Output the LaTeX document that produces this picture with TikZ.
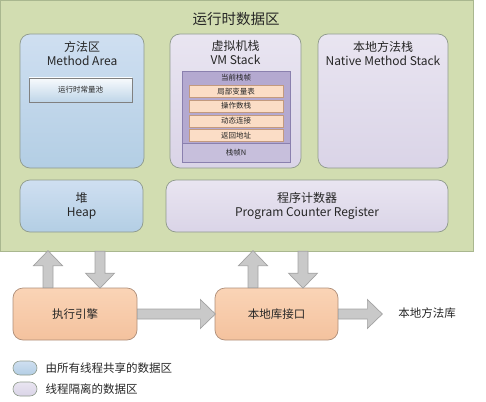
\documentclass[tikz,border=0pt]{standalone}
\usepackage{fontspec}
\setmainfont{Noto Sans CJK SC}
\usetikzlibrary{positioning}
\definecolor{bggreen}{HTML}{D2DDB1}
\definecolor{bgline}{HTML}{A9B78F}
\definecolor{boxline}{HTML}{8F9A8C}
\definecolor{blueA}{HTML}{CFDFF1}
\definecolor{blueB}{HTML}{B3CEE4}
\definecolor{lilacA}{HTML}{E9E5F1}
\definecolor{lilacB}{HTML}{DAD4E7}
\definecolor{frameA}{HTML}{C7BFDC}
\definecolor{frameB}{HTML}{B4A9D0}
\definecolor{frameline}{HTML}{8A80AE}
\definecolor{rowfill}{HTML}{FBDDC6}
\definecolor{rowline}{HTML}{C39A7E}
\definecolor{orangeA}{HTML}{FAD4B6}
\definecolor{orangeB}{HTML}{F4C29E}
\definecolor{orangeline}{HTML}{AE8E79}
\definecolor{arrowfill}{HTML}{C9C9C9}
\definecolor{arrowline}{HTML}{A3A3A3}
\begin{document}
\begin{tikzpicture}[x=1pt,y=-1pt,
  every node/.style={inner sep=1pt,text=black!85},
  area/.style={draw=boxline,line width=0.7pt,rounded corners=10pt},
  shared/.style={area,top color=blueA,bottom color=blueB},
  private/.style={area,top color=lilacA,bottom color=lilacB},
  engine/.style={draw=orangeline,line width=0.7pt,rounded corners=10pt,top color=orangeA,bottom color=orangeB},
  rowbox/.style={draw=rowline,line width=0.5pt,fill=rowfill,minimum width=94pt,minimum height=12pt,font=\fontsize{7.5}{8}\selectfont},
  heading/.style={align=center,font=\fontsize{12}{14}\selectfont},
  small/.style={font=\fontsize{7.5}{8}\selectfont},
  label/.style={font=\fontsize{11.5}{13}\selectfont},
  pics/blockarrow/.style={code={
    \filldraw[fill=arrowfill,draw=arrowline,line width=0.7pt]
      (0,-5) -- (#1-15,-5) -- (#1-15,-14.5) -- (#1,0) -- (#1-15,14.5) -- (#1-15,5) -- (0,5) -- cycle;}}
]
\useasboundingbox (0,0) rectangle (486,401);
% runtime data area
\node[draw=bgline,fill=bggreen,minimum width=473pt,minimum height=251pt,inner sep=0pt] (runtime) at (236.5,125.5) {};
\node[font=\fontsize{14.5}{16}\selectfont] (title) at (236,19) {运行时数据区};

% method area
\node[shared,minimum width=124pt,minimum height=134pt] (method) at (82,101) {};
\node[heading,below=6pt of method.north] {方法区\\Method Area};
\node[draw=black!50,line width=0.6pt,top color=white!85!blueA,bottom color=blueB!85!white,minimum width=103pt,minimum height=24pt,small] (pool) at (80.5,90) {运行时常量池};

% vm stack
\node[private,minimum width=131pt,minimum height=134pt] (vmstack) at (235.5,101) {};
\node[heading,below=6pt of vmstack.north] {虚拟机栈\\VM Stack};
\node[draw=frameline,line width=0.6pt,fill=frameA,minimum width=108pt,minimum height=91pt] (frames) at (236,116.5) {};
\node[draw=frameline,line width=0.6pt,fill=frameB,minimum width=108pt,minimum height=72pt] (current) at (236,107) {};
\node[small] at (236,78) {当前栈帧};
\foreach \y/\name/\txt in {91.5/locals/局部变量表,106/operands/操作数栈,121/dynlink/动态连接,135.5/retaddr/返回地址}
  \node[rowbox] (\name) at (236,\y) {\txt};
\node[small] at (236,153) {栈帧N};

% native method stack
\node[private,minimum width=130pt,minimum height=134pt] (native) at (383,101) {};
\node[heading,below=6pt of native.north] {本地方法栈\\Native Method Stack};

% heap and pc register
\node[shared,minimum width=123pt,minimum height=52pt,heading] (heap) at (81.5,206) {堆\\Heap};
\node[private,minimum width=282pt,minimum height=52pt,heading] (pc) at (307,206) {程序计数器\\Program Counter Register};

% execution engine and native interface
\node[engine,minimum width=124pt,minimum height=52pt,label] (exec) at (75,314) {执行引擎};
\node[engine,minimum width=123pt,minimum height=52pt,label] (jni) at (276.5,314) {本地库接口};
\node[label] (libs) at (427,313) {本地方法库};

\pic[rotate=90] at ([xshift=-27pt]exec.north) {blockarrow=37};
\pic[rotate=-90] at ([xshift=25pt]exec.north |- runtime.south) {blockarrow=37};
\pic[rotate=90] at ([xshift=-23.5pt]jni.north) {blockarrow=37};
\pic[rotate=-90] at ([xshift=26.5pt]jni.north |- runtime.south) {blockarrow=37};
\pic at (exec.east) {blockarrow=78};
\pic at (jni.east) {blockarrow=44};

% legend
\node[draw=boxline,line width=0.6pt,rounded corners=7pt,top color=blueA,bottom color=blueB,minimum width=24pt,minimum height=14pt] (keyshared) at (25,368) {};
\node[label,anchor=west,right=7pt of keyshared] {由所有线程共享的数据区};
\node[draw=boxline,line width=0.6pt,rounded corners=7pt,top color=lilacA,bottom color=lilacB,minimum width=24pt,minimum height=14pt] (keyprivate) at (25,389) {};
\node[label,anchor=west,right=7pt of keyprivate] {线程隔离的数据区};
\end{tikzpicture}
\end{document}
